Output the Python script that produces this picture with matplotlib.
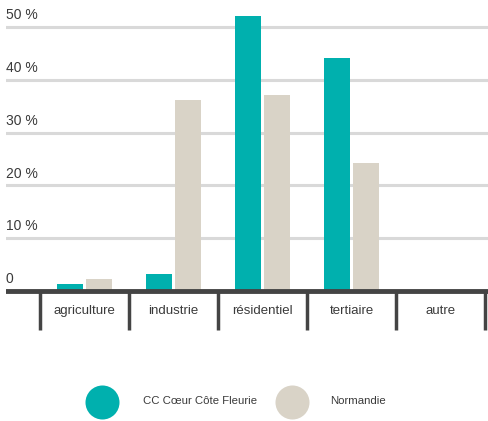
import matplotlib
matplotlib.use("Agg")
import matplotlib.pyplot as plt
import numpy as np

# Répartition des consommations par secteur
secteurs = ["agriculture", "industrie", "résidentiel", "tertiaire", "autre"]
cc_coeur = [1.3, 3.2, 52.1, 44.1, 0]
normandie = [2.3, 36.2, 37.1, 24.2, 0]
graduations = [0, 10, 20, 30, 40, 50]
etiquettes_y = ["0", "10 %", "20 %", "30 %", "40 %", "50 %"]
noms_series = ["CC Cœur Côte Fleurie", "Normandie"]

TEAL = "#00B0AE"
BEIGE = "#D9D3C7"
GRIS = "#444444"
FONT = ["Liberation Sans Narrow", "Liberation Sans", "DejaVu Sans"]

W, H = 488, 421
fig = plt.figure(figsize=(W / 100, H / 100), dpi=100)
ax = fig.add_axes([6 / W, 0, (W - 6) / W, 1])

pas = 89.0          # largeur d'une catégorie en pixels
px_par_pc = 5.28    # pixels par point de pourcentage
ax.set_xlim((6 - 84.5) / pas, (W - 84.5) / pas)
ax.set_ylim(-(H - 291) / px_par_pc, 291 / px_par_pc)
ax.axis("off")

# grille horizontale + étiquettes
for g, lab in zip(graduations, etiquettes_y):
    if g > 0:
        ax.axhline(g, color="#D9D9D9", lw=2.2, zorder=0)
    ax.text(ax.get_xlim()[0], g + 0.9, lab, ha="left", va="bottom",
            fontsize=10, color="#3a3a3a", family=FONT)

x = np.arange(len(secteurs))
larg = 26 / pas
dec = 14.5 / pas
ax.bar(x - dec, cc_coeur, width=larg, color=TEAL, zorder=2)
ax.bar(x + dec, normandie, width=larg, color=BEIGE, zorder=2)

# ligne de base et séparateurs
ax.axhline(0, color=GRIS, lw=3.5, zorder=3)
for i in range(len(secteurs) + 1):
    ax.plot([i - 0.5, i - 0.5], [0, -39 / px_par_pc], color=GRIS, lw=2.5,
            zorder=3, solid_capstyle="butt")
for i, s in enumerate(secteurs):
    ax.text(i, -20 / px_par_pc, s, ha="center", va="center",
            fontsize=9.5, color="#3a3a3a", family=FONT)

# légende
for cx, col, nom, tx in [(102, TEAL, noms_series[0], 143),
                         (292, BEIGE, noms_series[1], 330)]:
    ax.scatter([cx / W], [1 - 402 / H], s=600, color=col, lw=0,
               transform=fig.transFigure, clip_on=False)
    fig.text(tx / W, 1 - 401 / H, nom, ha="left", va="center",
             fontsize=8.2, color="#3a3a3a", family=FONT)

fig.savefig("out.png", dpi=100)
